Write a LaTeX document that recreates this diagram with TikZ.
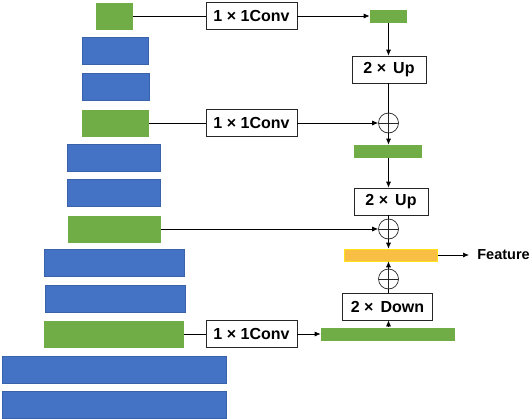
\documentclass[tikz,border=0pt]{standalone}
\usepackage{fontspec}
\setmainfont{Liberation Sans}
\usetikzlibrary{arrows.meta}

\definecolor{blueF}{HTML}{4472C4}
\definecolor{blueD}{HTML}{3A62AA}
\definecolor{greenF}{HTML}{70AD47}
\definecolor{orangeF}{HTML}{F8BF44}
\definecolor{orangeD}{HTML}{FFE21A}

\begin{document}
\begin{tikzpicture}[x=1pt,y=-1pt,line width=0.7pt,
  font=\fontsize{16}{18}\selectfont\bfseries,
  >={Latex[length=6pt,width=5pt]},
  blu/.style={draw=blueD,line width=0.5pt,fill=blueF,inner sep=0,minimum height=27},
  grn/.style={fill=greenF,inner sep=0,minimum height=27},
  thin/.style={fill=greenF,inner sep=0,minimum height=13},
  op/.style={draw=black!85,fill=white,inner sep=0,minimum height=27},
  sum/.style={draw=black!85,circle,inner sep=0,minimum size=20,
    path picture={\draw[black!85] (path picture bounding box.north) -- (path picture bounding box.south)
      (path picture bounding box.west) -- (path picture bounding box.east);}}]
  \useasboundingbox (0,0) rectangle (532,418);

  % backbone
  \node[grn,minimum width=37] (g1) at (114.5,16) {};
  \node[blu,minimum width=66] (b1) at (115,51) {};
  \node[blu,minimum width=67] (b2) at (115.5,86.5) {};
  \node[grn,minimum width=67] (g2) at (115.5,123) {};
  \node[blu,minimum width=93] (b3) at (113.5,157.5) {};
  \node[blu,minimum width=93] (b4) at (113.5,192.5) {};
  \node[grn,minimum width=93] (g3) at (114.5,229) {};
  \node[blu,minimum width=140] (b5) at (114,263) {};
  \node[blu,minimum width=140] (b6) at (115,298.5) {};
  \node[grn,minimum width=140] (g4) at (114,334) {};
  \node[blu,minimum width=224] (b7) at (114,369.5) {};
  \node[blu,minimum width=224] (b8) at (114,404.5) {};

  \node[op,minimum width=91] (conv1) at (251.5,16) {1 × 1Conv};
  \node[op,minimum width=91] (conv2) at (251.5,123) {1 × 1Conv};
  \node[op,minimum width=91] (conv3) at (251.5,334) {1 × 1Conv};

  % fusion branch
  \node[thin,minimum width=37] (top) at (388.5,16) {};
  \node[op,minimum width=74] (up1) at (389,69.5) {2 × \,Up};
  \node[sum] (plus1) at (388.5,123) {};
  \node[thin,minimum width=68] (mid) at (388,151.5) {};
  \node[op,minimum width=74] (up2) at (391,201.5) {2 × \,Up};
  \node[sum] (plus2) at (388.5,229) {};
  \node[draw=orangeD,line width=0.6pt,fill=orangeF,inner sep=0,minimum width=93,minimum height=12] (feat) at (391,255) {};
  \node[anchor=west,inner sep=0,font=\fontsize{14.5}{17}\selectfont\bfseries] (out) at (477,255) {Feature};
  \node[sum] (plus3) at (388.5,279) {};
  \node[op,minimum width=90] (down) at (387.5,306.5) {2 × \,Down};
  \node[thin,minimum width=134] (bot) at (388,334) {};

  \draw (g1)--(conv1);
  \draw[->] (conv1)--(top);
  \draw[->] (top)--(top |- up1.north);
  \draw (up1.south -| plus1)--(plus1);
  \draw[->] (plus1)--(plus1 |- mid.north);
  \draw (g2)--(conv2);
  \draw[->] (conv2)--(plus1);
  \draw[->] (mid.south -| plus1)--(plus1 |- up2.north);
  \draw (up2.south -| plus2)--(plus2);
  \draw[->] (plus2)--(plus2 |- feat.north);
  \draw[->] (g3)--(plus2);
  \draw (g4)--(conv3);
  \draw[->] (conv3)--(bot);
  \draw[->] (bot.north -| plus3)--(plus3 |- down.south);
  \draw (down.north -| plus3)--(plus3);
  \draw[->] (plus3)--(plus3 |- feat.south);
  \draw[->,shorten >=8pt] (feat)--(out);
\end{tikzpicture}
\end{document}
